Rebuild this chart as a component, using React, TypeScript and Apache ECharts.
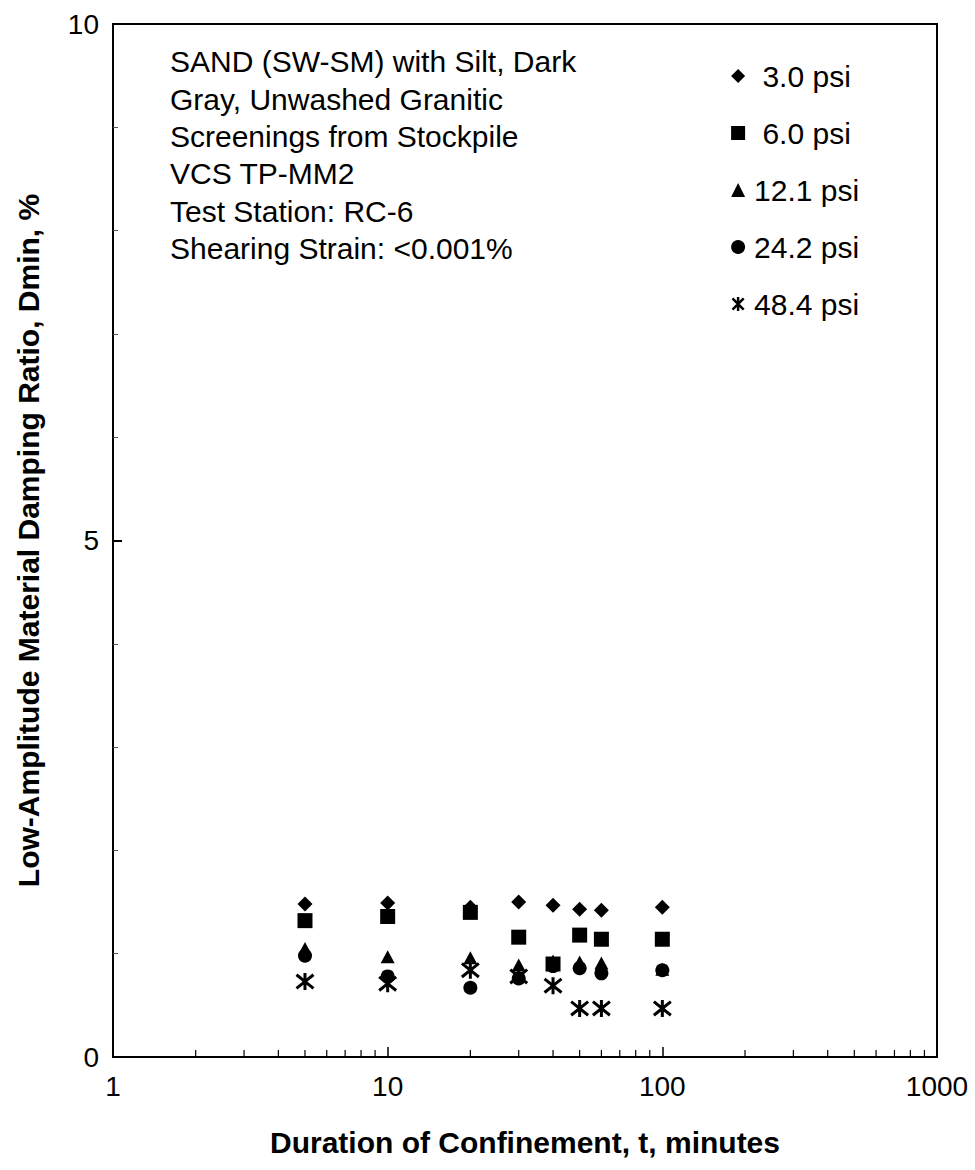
import React, { useEffect, useRef } from "react";
import * as echarts from "echarts";

// Duration of confinement (minutes)
const times = [5, 10, 20, 30, 40, 50, 60, 100];

// Low-amplitude damping ratio (%) at each confining pressure
const psi3 = [1.48, 1.49, 1.45, 1.5, 1.47, 1.43, 1.42, 1.45];
const psi6 = [1.32, 1.36, 1.4, 1.16, 0.9, 1.18, 1.14, 1.14];
const psi12 = [1.05, 0.97, 0.96, 0.89, 0.93, 0.92, 0.91, 0.85];
const psi24 = [0.98, 0.78, 0.67, 0.76, 0.88, 0.86, 0.81, 0.84];
const psi48 = [0.73, 0.71, 0.84, 0.78, 0.69, 0.47, 0.47, 0.47];

const seriesNames = ["3.0 psi", "6.0 psi", "12.1 psi", "24.2 psi", "48.4 psi"];

// Log-axis minor tick positions (2..9 in each decade)
const minorTicks = [2, 3, 4, 5, 6, 7, 8, 9, 20, 30, 40, 50, 60, 70, 80, 90, 200, 300, 400, 500, 600, 700, 800, 900];

const noteLines = [
  "SAND (SW-SM) with Silt, Dark",
  "Gray, Unwashed Granitic",
  "Screenings from Stockpile",
  "VCS TP-MM2",
  "Test Station: RC-6",
  "Shearing Strain: <0.001%",
];

const FONT = "'Liberation Sans', Arial, Helvetica, sans-serif";
const ASTERISK = "path://M10 0 L10 20 M2 2 L18 18 M18 2 L2 18";

function pairs(ys: number[]) {
  return times.map((t, i) => [t, ys[i]]);
}

export default function App() {
  const ref = useRef<HTMLDivElement>(null);

  useEffect(() => {
    document.body.style.margin = "0";
    const chart = echarts.init(ref.current!, undefined, { renderer: "svg" });

    const scatterBase = {
      type: "scatter" as const,
      itemStyle: { color: "#000", opacity: 1 },
      emphasis: { disabled: true },
    };

    chart.setOption({
      animation: false,
      backgroundColor: "#fff",
      grid: {
        left: 113,
        top: 24,
        width: 824,
        height: 1033,
        show: true,
        borderColor: "#000",
        borderWidth: 2,
        backgroundColor: "transparent",
      },
      xAxis: {
        type: "log",
        logBase: 10,
        min: 1,
        max: 1000,
        name: "Duration of Confinement, t, minutes",
        nameLocation: "middle",
        nameGap: 70,
        nameTextStyle: { fontFamily: FONT, fontSize: 30, fontWeight: "bold", color: "#000" },
        axisLine: { lineStyle: { color: "#000", width: 2 } },
        axisTick: { inside: true, length: 10, lineStyle: { color: "#000", width: 1.5 } },
        axisLabel: {
          fontFamily: FONT,
          fontSize: 28,
          color: "#000",
          margin: 15,
          formatter: (v: number) => String(Math.round(v)),
        },
        splitLine: { show: false },
      },
      yAxis: {
        type: "value",
        min: 0,
        max: 10,
        interval: 5,
        name: "Low-Amplitude Material Damping Ratio, Dmin, %",
        nameLocation: "middle",
        nameGap: 70,
        nameTextStyle: { fontFamily: FONT, fontSize: 30, fontWeight: "bold", color: "#000" },
        axisLine: { lineStyle: { color: "#000", width: 2 } },
        axisTick: { inside: true, length: 9, lineStyle: { color: "#000", width: 2 } },
        minorTick: { show: true, splitNumber: 5, length: 5, lineStyle: { color: "#555", width: 1 } },
        axisLabel: { fontFamily: FONT, fontSize: 28, color: "#000", margin: 14 },
        splitLine: { show: false },
      },
      legend: {
        orient: "vertical",
        left: 725,
        top: 56,
        itemWidth: 14,
        itemHeight: 14,
        itemGap: 27,
        textStyle: { fontFamily: FONT, fontSize: 30, color: "#000", padding: [0, 0, 0, 4] },
        formatter: (name: string) => (name.length < 8 ? " " + name : name),
        data: [
          seriesNames[0],
          seriesNames[1],
          seriesNames[2],
          seriesNames[3],
          { name: seriesNames[4], itemStyle: { color: "none", borderColor: "#000", borderWidth: 2.5 } },
        ],
        selectedMode: false,
      },
      graphic: [
        {
          type: "text",
          left: 170,
          top: 43,
          style: {
            text: noteLines.join("\n"),
            fontFamily: FONT,
            fontSize: 30,
            lineHeight: 37.4,
            fill: "#000",
          },
        },
      ],
      series: [
        {
          type: "custom",
          silent: true,
          renderItem: (_params: any, api: any) => {
            const p = api.coord([api.value(0), 0]);
            return {
              type: "line",
              shape: { x1: p[0], y1: p[1], x2: p[0], y2: p[1] - 7 },
              style: { stroke: "#000", lineWidth: 1.2 },
            };
          },
          data: minorTicks.map((v) => [v, 0]),
          z: 1,
        },
        {
          ...scatterBase,
          name: seriesNames[4],
          symbol: ASTERISK,
          symbolSize: 17,
          itemStyle: { color: "none", borderColor: "#000", borderWidth: 3, opacity: 1 },
          data: pairs(psi48),
        },
        { ...scatterBase, name: seriesNames[3], symbol: "circle", symbolSize: 14, data: pairs(psi24) },
        { ...scatterBase, name: seriesNames[2], symbol: "triangle", symbolSize: [14, 13], data: pairs(psi12) },
        { ...scatterBase, name: seriesNames[1], symbol: "rect", symbolSize: 15, data: pairs(psi6) },
        { ...scatterBase, name: seriesNames[0], symbol: "diamond", symbolSize: 15, data: pairs(psi3) },
      ],
    });

    return () => chart.dispose();
  }, []);

  return <div ref={ref} style={{ width: 975, height: 1170 }} />;
}
